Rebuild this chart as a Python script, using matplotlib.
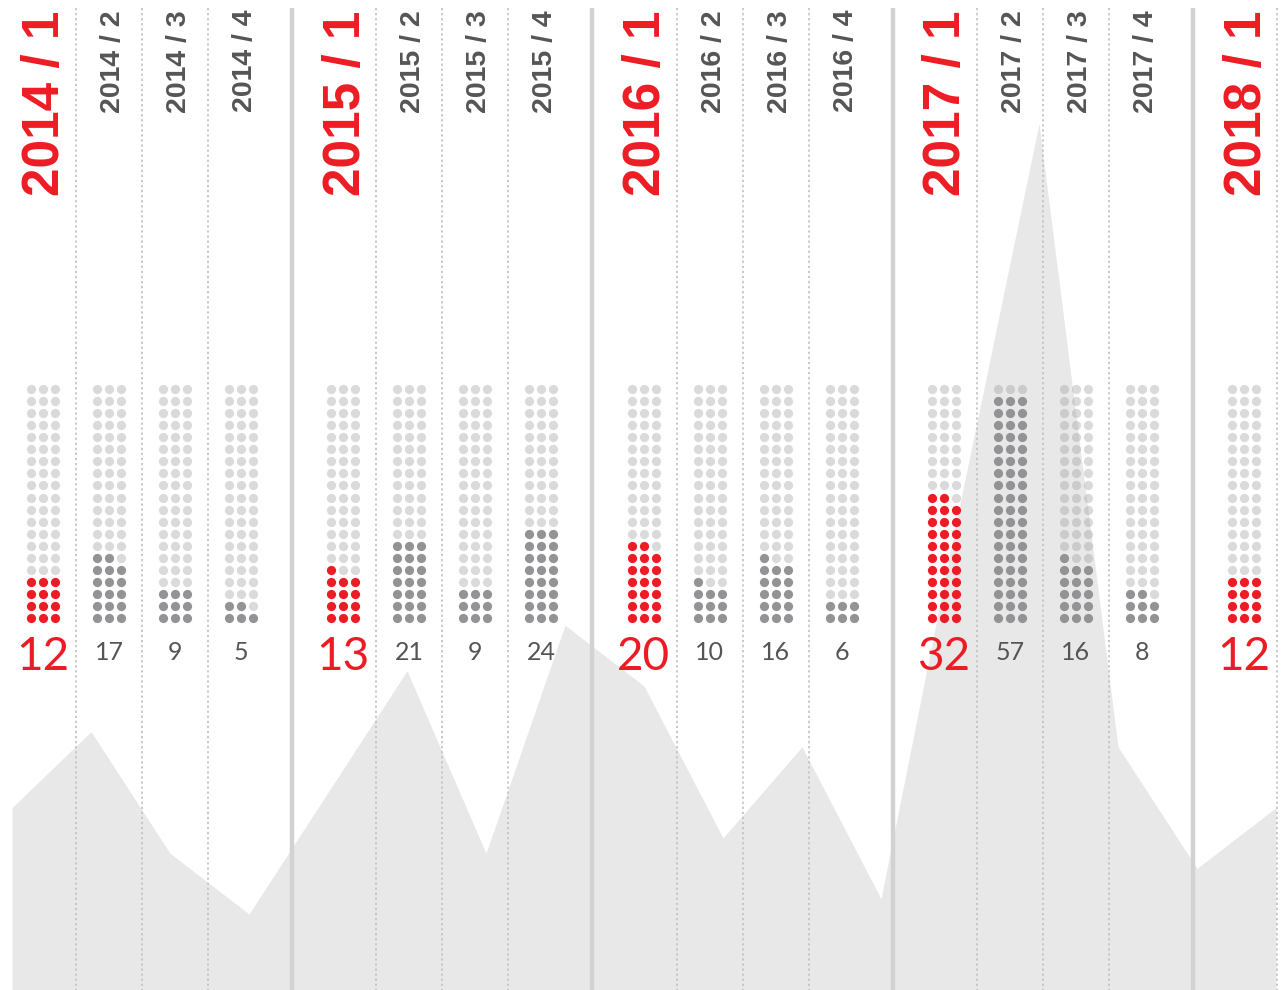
import matplotlib.pyplot as plt
import numpy as np

quarters = ["2014 / 1", "2014 / 2", "2014 / 3", "2014 / 4",
            "2015 / 1", "2015 / 2", "2015 / 3", "2015 / 4",
            "2016 / 1", "2016 / 2", "2016 / 3", "2016 / 4",
            "2017 / 1", "2017 / 2", "2017 / 3", "2017 / 4",
            "2018 / 1"]
counts = [12, 17, 9, 5, 13, 21, 9, 24, 20, 10, 16, 6, 32, 57, 16, 8, 12]

RED = "#ed1c24"
DARK = "#939396"
TEXT = "#555555"
AREA = "#e8e8e8"

W, H = 1281, 990
fig = plt.figure(figsize=(W / 100, H / 100), dpi=100)

# background area, in data units (quarter index vs count)
ax_area = fig.add_axes([0, 0, 1, 1], zorder=0)
ax_area.fill_between(np.arange(len(counts)), counts, 0, color=AREA, lw=0)
ax_area.set_xlim(-12 / 79, (W - 12) / 79)
ax_area.set_ylim(0, H / 15.2)
ax_area.axis("off")

# layout layer in pixel units
ax = fig.add_axes([0, 0, 1, 1], zorder=1)
ax.set_xlim(0, W)
ax.set_ylim(H, 0)
ax.axis("off")
ax.patch.set_alpha(0)

x0, year_step, q_step = 43, 300.25, 66
xs = [x0 + year_step * (i // 4) + q_step * (i % 4) for i in range(len(counts))]

# separators
for i, x in enumerate(xs):
    right = x + q_step / 2 if i % 4 != 3 else x + (year_step - 3 * q_step) / 2
    if i % 4 == 3:
        ax.plot([right, right], [8, H], color="#d2d2d2", lw=3.2, solid_capstyle="butt")
    else:
        ax.plot([right, right], [8, H], color="#c4c4c4", lw=1.3, ls=(0, (1.2, 1.6)))

# dot grids: 3 wide, 20 tall, filled from the bottom
rows, cols = 20, 3
for i, (x, v) in enumerate(zip(xs, counts)):
    on = RED if i % 4 == 0 else DARK
    for r in range(rows):
        for c in range(cols):
            px = x + (c - 1) * 12
            py = 618 - r * 12.05
            if r * cols + c < v:
                ax.scatter(px, py, s=44, color=on, lw=0, zorder=3)
            else:
                ax.scatter(px, py, s=44, color="#9a9a9a", alpha=0.36, lw=0, zorder=3)

# labels and numbers
for i, (x, lab, v) in enumerate(zip(xs, quarters, counts)):
    if i % 4 == 0:
        ax.text(x + 3, 11, lab, rotation=90, ha="center", va="top", color=RED,
                fontsize=37, fontweight="bold", family="Liberation Sans", zorder=4)
        ax.text(x, 670, str(v), ha="center", va="baseline", color=RED,
                fontsize=33, family="Lato", zorder=4)
    else:
        ax.text(x + 4, 10, lab, rotation=90, ha="center", va="top", color=TEXT,
                fontsize=20.5, fontweight="bold", family="Liberation Sans", zorder=4)
        ax.text(x, 659.5, str(v), ha="center", va="baseline", color=TEXT,
                fontsize=18, family="Lato", zorder=4)

plt.savefig("out.png", dpi=100)
